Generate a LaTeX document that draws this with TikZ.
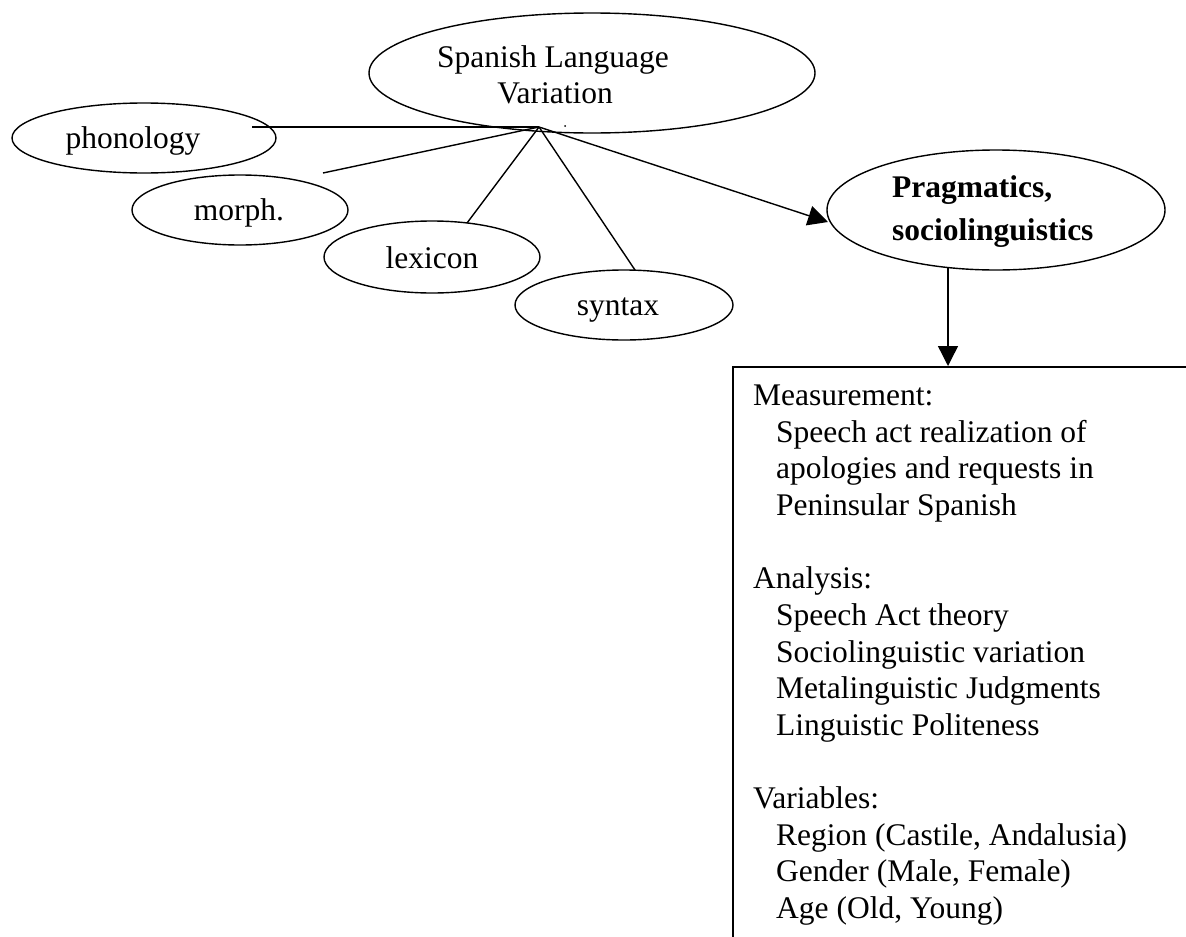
\documentclass[tikz,border=0pt]{standalone}
\usepackage{fontspec}
\setmainfont{Liberation Serif}
\usetikzlibrary{shapes.geometric,arrows.meta}
\begin{document}
\begin{tikzpicture}[x=1pt,y=-1pt,
  oval/.style={draw, ellipse, line width=1.4pt, inner sep=0pt},
  txt/.style={anchor=base, inner sep=0pt, font=\fontsize{31.5}{36.6}\selectfont},
  ltxt/.style={anchor=base west, inner sep=0pt, font=\fontsize{31.5}{36.6}\selectfont},
  link/.style={line width=1.4pt},
  arr/.style={line width=1.4pt, -{Triangle[length=20pt,width=20pt]}}]
\useasboundingbox[fill=white] (0,0) rectangle (1186,937);

% ellipses
\node[oval, minimum width=446pt, minimum height=120pt] (sp) at (592,73) {};
\node[oval, minimum width=264pt, minimum height=70pt] (ph) at (144,138) {};
\node[oval, minimum width=216pt, minimum height=70pt] (mo) at (240,210) {};
\node[oval, minimum width=216pt, minimum height=72pt] (le) at (432,257) {};
\node[oval, minimum width=218pt, minimum height=70pt] (sy) at (624,305) {};
\node[oval, minimum width=338pt, minimum height=120pt] (pr) at (996,210) {};

% texts
\node[txt] (spT1) at (553,67) {Spanish Language};
\node[txt] (spT2) at (555,103) {Variation};
\node[txt] (phT) at (133,148) {phonology};
\node[txt] (moT) at (239,220) {morph.};
\node[txt] (leT) at (432,268) {lexicon};
\node[txt] (syT) at (618,315) {syntax};
\node[ltxt, font=\fontsize{31.5}{36.6}\selectfont\bfseries] (prT1) at (892,197) {Pragmatics,};
\node[ltxt, font=\fontsize{31.5}{36.6}\selectfont\bfseries] (prT2) at (892,240) {sociolinguistics};

% connectors
\coordinate (hub) at (539,127);
\coordinate (phS) at (252,127);
\coordinate (moS) at (323,173);
\coordinate (leS) at (467,223);
\coordinate (syS) at (635,270);
\coordinate (prL) at (828,222);
\coordinate (prB) at (948,268);
\draw[link] (phS) -- (hub);
\draw[link] (moS) -- (hub);
\draw[link] (leS) -- (hub);
\draw[link] (syS) -- (hub);
\draw[arr] (hub) -- (prL);
\fill (565,126) circle (1pt);

% box
\node[draw, line width=2pt, anchor=north west, minimum width=700pt, minimum height=800pt, inner sep=0pt] (box) at (732,366) {};
\draw[arr] (prB) -- (prB |- box.north);

\node[ltxt] (b1) at (753,405) {Measurement:};
\node[ltxt] (b2) at (776,442) {Speech act realization of};
\node[ltxt] (b3) at (776,478) {apologies and requests in};
\node[ltxt] (b4) at (776,515) {Peninsular Spanish};
\node[ltxt] (b5) at (753,588) {Analysis:};
\node[ltxt] (b6) at (776,625) {Speech Act theory};
\node[ltxt] (b7) at (776,662) {Sociolinguistic variation};
\node[ltxt] (b8) at (776,698) {Metalinguistic Judgments};
\node[ltxt] (b9) at (776,735) {Linguistic Politeness};
\node[ltxt] (b10) at (753,808) {Variables:};
\node[ltxt] (b11) at (776,845) {Region (Castile, Andalusia)};
\node[ltxt] (b12) at (776,881) {Gender (Male, Female)};
\node[ltxt] (b13) at (776,918) {Age (Old, Young)};
\end{tikzpicture}
\end{document}
